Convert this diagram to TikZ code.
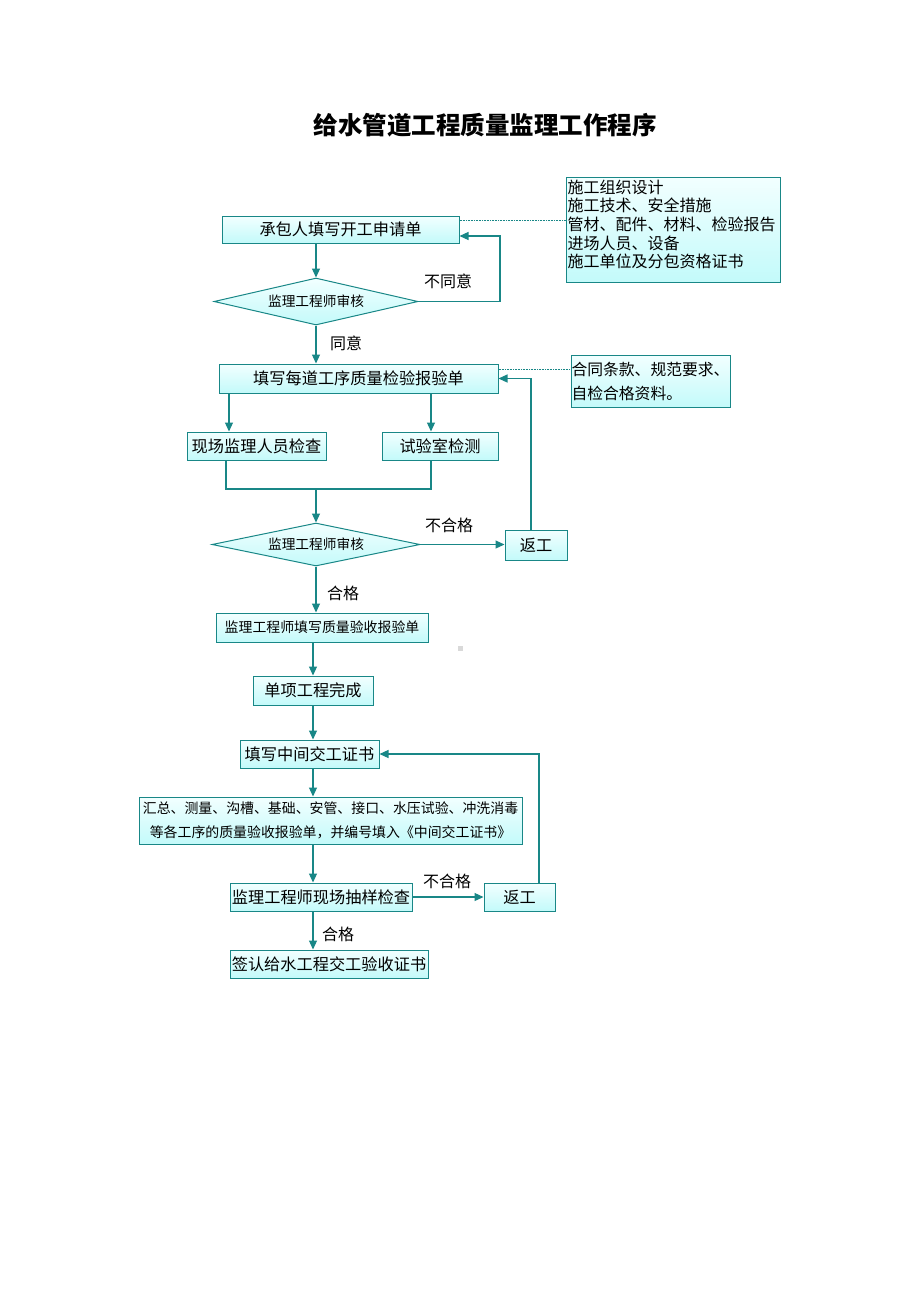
\documentclass[tikz,border=0pt]{standalone}
\usepackage{fontspec}
\newfontfamily\cjk{Noto Sans CJK SC}
\usetikzlibrary{arrows.meta,shapes.geometric,calc}
\definecolor{tealc}{RGB}{25,135,135}
\definecolor{ftop}{RGB}{242,255,255}
\definecolor{fbot}{RGB}{195,250,250}
\begin{document}
\begin{tikzpicture}[x=1pt,y=-1pt,
  box/.style={draw=tealc,line width=1pt,top color=ftop,bottom color=fbot,inner sep=0pt,
    font=\cjk\fontsize{16.2}{18}\selectfont},
  smallbox/.style={box,font=\cjk\fontsize{13.9}{24}\selectfont},
  dia/.style={diamond,aspect=4,draw=tealc,line width=1pt,top color=ftop,bottom color=fbot,
    inner sep=0pt,font=\cjk\fontsize{13.7}{16}\selectfont},
  arr/.style={draw=tealc,line width=1.2pt,-{Triangle[length=9pt,width=8pt]}},
  ln/.style={draw=tealc,line width=1.2pt},
  dotl/.style={draw=tealc,line width=0.6pt,densely dotted},
  lab/.style={font=\cjk\fontsize{16}{18}\selectfont,inner sep=0pt}]
\useasboundingbox (0,0) rectangle (920,1302);
\fill[white] (0,0) rectangle (920,1302);

\node[font=\cjk\bfseries\fontsize{24.5}{28}\selectfont] (title) at (485,125) {给水管道工程质量监理工作程序};

\node[box,minimum width=237,minimum height=27] (A) at (340.5,229.5) {承包人填写开工申请单};
\node[box,minimum width=214,minimum height=105] (N1) at (673,229.5) {};
\node[anchor=north west,align=left,inner sep=0pt,font=\cjk\fontsize{16}{18.7}\selectfont] (N1t) at (567.5,179.5)
  {施工组织设计\\施工技术、安全措施\\管材、配件、材料、检验报告\\进场人员、设备\\施工单位及分包资格证书};

\node[dia,minimum width=204,minimum height=47] (D1) at (316,301.5) {监理工程师审核};
\node[box,minimum width=279,minimum height=29] (B) at (358.5,378.5) {填写每道工序质量检验报验单};
\node[box,minimum width=159,minimum height=52,align=left,font=\cjk\fontsize{15.8}{24}\selectfont] (N2) at (650.5,381)
  {合同条款、规范要求、\\自检合格资料。};

\node[box,minimum width=139,minimum height=28] (C) at (256.5,446) {现场监理人员检查};
\node[box,minimum width=116,minimum height=28] (D) at (440,446) {试验室检测};
\node[dia,minimum width=208,minimum height=43] (D2) at (316,544.5) {监理工程师审核};
\node[box,minimum width=62,minimum height=30] (R1) at (536,545) {返工};
\node[smallbox,minimum width=212,minimum height=29] (E) at (322,627.5) {监理工程师填写质量验收报验单};
\node[box,minimum width=120,minimum height=29] (F) at (313,690.5) {单项工程完成};
\node[box,minimum width=139,minimum height=28] (G) at (309.5,754) {填写中间交工证书};
\node[smallbox,minimum width=383,minimum height=47,align=center] (H) at (330.5,820.5)
  {汇总、测量、沟槽、基础、安管、接口、水压试验、冲洗消毒\\等各工序的质量验收报验单，并编号填入《中间交工证书》};
\node[box,minimum width=182,minimum height=28] (I) at (321,897) {监理工程师现场抽样检查};
\node[box,minimum width=71,minimum height=28] (R2) at (519.5,897) {返工};
\node[box,minimum width=198,minimum height=28] (J) at (329,964) {签认给水工程交工验收证书};

\fill[black!15] (458,646) rectangle (463,651);

% dotted notes
\coordinate (a1) at ([yshift=9.5pt]A.east);
\draw[dotl] (a1) -- (a1 -| N1.west);
\coordinate (b1) at ([yshift=9.5pt]B.east);
\draw[dotl] (b1) -- (b1 -| N2.west);

% connectors
\draw[arr] (D1.north |- A.south) -- (D1.north);
\coordinate (L1) at (500,301.5);
\draw[arr] (D1.east) -- (L1) |- ([yshift=-6.5pt]A.east);
\node[lab] (l1) at (448,281) {不同意};
\draw[arr] (D1.south) -- (D1.south |- B.north);
\node[lab] (l2) at (346,343) {同意};

\coordinate (c1) at ([xshift=-27.5pt]C.north);
\draw[arr] (c1 |- B.south) -- (c1);
\coordinate (d1) at ([xshift=-9pt]D.north);
\draw[arr] (d1 |- B.south) -- (d1);
\coordinate (c2) at ([xshift=-30.5pt]C.south);
\coordinate (d2) at ([xshift=-9pt]D.south);
\coordinate (m) at (316,489);
\draw[ln] (c2) -- (c2 |- m) -- (d2 |- m) -- (d2);
\draw[arr] (m) -- (D2.north);

\draw[arr] (D2.east) -- (D2.east -| R1.west);
\node[lab] (l3) at (449,525) {不合格};
\coordinate (r1) at ([xshift=-5pt]R1.north);
\draw[arr] (r1) |- (B.east);
\draw[arr] (D2.south) -- (D2.south |- E.north);
\node[lab] (l4) at (343,593) {合格};

\draw[arr] (F.north |- E.south) -- (F.north);
\draw[arr] (F.south) -- (F.south |- G.north);
\draw[arr] (F.south |- G.south) -- (F.south |- H.north);
\draw[arr] (F.south |- H.south) -- (F.south |- I.north);
\draw[arr] (I.east) -- (R2.west);
\node[lab] (l5) at (447,881) {不合格};
\coordinate (r2) at ([xshift=19.5pt]R2.north);
\draw[arr] (r2) |- (G.east);
\draw[arr] (F.south |- I.south) -- (F.south |- J.north);
\node[lab] (l6) at (338,934) {合格};
\end{tikzpicture}
\end{document}
